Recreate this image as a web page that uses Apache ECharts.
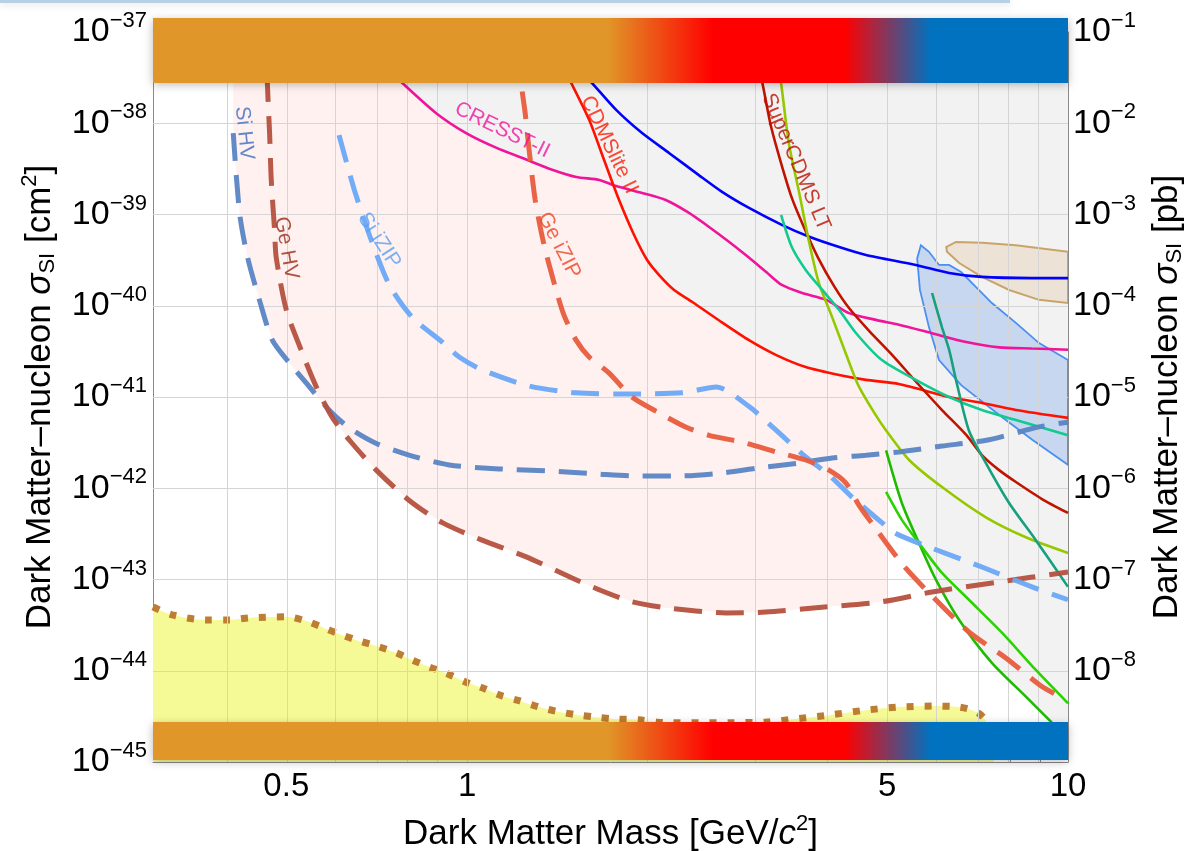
<!DOCTYPE html>
<html><head><meta charset="utf-8">
<script src="https://cdn.jsdelivr.net/npm/echarts@6/dist/echarts.min.js"></script>
<style>html,body{margin:0;padding:0;background:#fff}#c{width:1186px;height:851px}</style>
</head><body><div id="c"></div>
<script>
// ---------------- data (mass in GeV/c^2, cross section in cm^2) ----------------
const xRange = [0.3, 10];
const yRange = [1e-45, 1e-37];
const xTickLabels = [0.5, 1, 5, 10];
const xGridValues = [0.4, 0.5, 0.6, 0.7, 0.8, 0.9, 1, 2, 3, 4, 5, 6, 7, 8, 9];
const yGridExponents = [-44, -43, -42, -41, -40, -39, -38, -37];

const siHV = [[0.408,7.8e-39],[0.418,1.04e-39],[0.431,3.4e-40],[0.451,1.16e-40],[0.474,4.2e-41],[0.506,2.36e-41],[0.540,1.42e-41],[0.589,7.2e-42],[0.636,4.6e-42],[0.706,3.1e-42],[0.80,2.31e-42],[0.934,1.8e-42],[1.13,1.63e-42],[1.37,1.55e-42],[1.66,1.43e-42],[1.955,1.36e-42],[2.23,1.36e-42],[2.66,1.47e-42],[3.06,1.67e-42],[3.57,1.89e-42],[4.05,2.15e-42],[4.61,2.3e-42],[5.23,2.5e-42],[6.17,2.9e-42],[7.39,3.4e-42],[8.95,4.7e-42],[10,5.3e-42]];
const geHV = [[0.463,1e-37],[0.465,2.76e-38],[0.469,7.8e-39],[0.472,2.39e-39],[0.478,6.8e-40],[0.481,3.4e-40],[0.5,9.0e-41],[0.529,3.3e-41],[0.561,1.29e-41],[0.596,6.0e-42],[0.636,3.4e-42],[0.706,1.58e-42],[0.80,7.4e-43],[0.909,4.2e-43],[1.059,2.7e-43],[1.254,1.77e-43],[1.495,1.04e-43],[1.66,7.7e-44],[1.88,5.7e-44],[2.14,4.9e-44],[2.70,4.3e-44],[3.14,4.4e-44],[3.81,4.9e-44],[4.90,5.7e-44],[5.94,7.3e-44],[7.68,9.4e-44],[10,1.21e-43]];
const siIZIP = [[0.612,7.4e-39],[0.649,1.86e-39],[0.692,5.3e-40],[0.742,1.69e-40],[0.81,7.5e-41],[0.909,4.0e-41],[0.97,2.74e-41],[1.059,1.98e-41],[1.268,1.32e-41],[1.518,1.11e-41],[1.88,1.08e-41],[2.28,1.11e-41],[2.60,1.29e-41],[2.95,7.8e-42],[3.27,4.3e-42],[3.66,2.2e-42],[4.0,1.4e-42],[4.37,8.0e-43],[4.90,4.2e-43],[5.17,3.2e-43],[5.94,2.2e-43],[7.19,1.37e-43],[8.71,8.3e-44],[10,6.0e-44]];
const geIZIP = [[1.22,6.4e-38],[1.23,2.76e-38],[1.249,1.29e-38],[1.268,5.1e-39],[1.298,1.44e-39],[1.343,4.6e-40],[1.406,1.49e-40],[1.449,7.9e-41],[1.518,4.2e-41],[1.596,2.74e-41],[1.723,1.83e-41],[1.88,1.0e-41],[2.087,6.7e-42],[2.31,4.7e-42],[2.527,3.8e-42],[2.868,3.2e-42],[3.27,2.5e-42],[3.66,2.04e-42],[4.0,1.58e-42],[4.27,1.14e-42],[4.49,6.5e-43],[4.79,3.6e-43],[5.33,1.41e-43],[5.98,6.3e-44],[6.84,2.66e-44],[7.88,1.38e-44],[9.02,6.8e-45],[9.6,5.4e-45]];
const cresstII = [[0.756,3.4e-38],[0.78,2.76e-38],[0.888,1.29e-38],[0.996,7.8e-39],[1.117,5.4e-39],[1.254,4.0e-39],[1.385,3.1e-39],[1.518,2.58e-39],[1.66,2.39e-39],[1.77,2.05e-39],[1.955,1.72e-39],[2.14,1.44e-39],[2.34,1.04e-39],[2.527,7.3e-40],[2.73,5.0e-40],[2.94,3.4e-40],[3.146,2.34e-40],[3.34,1.69e-40],[3.61,1.38e-40],[3.96,1.16e-40],[4.32,8.3e-41],[4.79,7.0e-41],[5.23,6.2e-41],[5.94,5.0e-41],[6.77,4.0e-41],[7.68,3.5e-41],[8.71,3.4e-41],[10,3.3e-41]];
const blueLimit = [[1.566,3.4e-38],[1.614,2.76e-38],[1.77,1.4e-38],[1.955,7.8e-39],[2.17,4.7e-39],[2.43,2.7e-39],[2.656,1.77e-39],[2.945,1.18e-39],[3.34,7.7e-40],[3.71,5.7e-40],[4.16,4.4e-40],[4.61,3.6e-40],[5.58,2.8e-40],[6.34,2.29e-40],[7.19,2.07e-40],[8.71,2.01e-40],[10,2.01e-40]];
const cdmsliteII = [[1.45,3.84e-38],[1.49,2.76e-38],[1.596,1.09e-38],[1.69,3.95e-39],[1.79,1.44e-39],[1.896,5.96e-40],[1.993,3.17e-40],[2.087,2.17e-40],[2.21,1.49e-40],[2.37,1.1e-40],[2.62,6.98e-41],[2.945,4.2e-41],[3.27,2.88e-41],[3.66,2.13e-41],[4.16,1.74e-41],[4.61,1.54e-41],[5.23,1.39e-41],[6.34,1.0e-41],[7.19,8.6e-42],[8.19,7.2e-42],[10,5.9e-42]];
const superCdmsLT = [[3.06,3.84e-38],[3.10,2.76e-38],[3.20,9.57e-39],[3.33,3.66e-39],[3.47,1.52e-39],[3.64,7.11e-40],[3.84,3.33e-40],[4.08,1.64e-40],[4.32,9.44e-41],[4.67,5.28e-41],[5.10,2.88e-41],[5.59,1.46e-41],[6.17,7.2e-42],[6.77,3.84e-42],[7.19,2.31e-42],[7.68,1.58e-42],[8.19,1.17e-42],[9.05,7.62e-43],[10,5.36e-43]];
const yellowGreenLimit = [[3.30,3.8e-38],[3.33,2.76e-38],[3.43,6.1e-39],[3.57,1.72e-39],[3.71,4.9e-40],[3.85,1.77e-40],[4.05,7.5e-41],[4.37,1.98e-41],[4.49,1.29e-41],[4.76,6.7e-42],[4.98,4.3e-42],[5.44,2.04e-42],[6.17,1.03e-42],[7.30,4.8e-43],[8.51,2.9e-43],[10,1.95e-43]];
const tealLimit = [[3.33,9.9e-40],[3.47,4.4e-40],[3.66,2.47e-40],[3.90,1.49e-40],[4.16,9.0e-41],[4.44,5.0e-41],[4.90,2.54e-41],[5.58,1.54e-41],[6.34,1.0e-41],[7.19,7.2e-42],[8.19,5.6e-42],[10,3.8e-42]];
const darkTealLimit = [[5.94,1.38e-40],[6.17,5.8e-41],[6.34,3.3e-41],[6.51,1.54e-41],[6.84,4.3e-42],[7.30,1.89e-42],[7.98,6.9e-43],[8.84,2.7e-43],[10,8.3e-44]];
const greenLimitA = [[4.98,2.6e-42],[5.29,6.9e-43],[5.65,2.5e-43],[6.03,9.9e-44],[6.59,3.6e-44],[7.47,1.22e-44],[8.51,5.2e-45],[9.4,2.7e-45]];
const greenLimitB = [[4.98,9.1e-43],[5.29,4.5e-43],[5.65,2.5e-43],[6.17,1.18e-43],[6.84,6.0e-44],[7.77,2.6e-44],[8.84,1.02e-44],[10,4.4e-45]];
const cdmsSiContour = [[5.69,4.6e-40],[5.87,3.9e-40],[6.10,2.8e-40],[6.34,2.8e-40],[6.64,2.34e-40],[7.03,1.6e-40],[7.47,1.07e-40],[8.19,6.5e-41],[8.95,3.9e-41],[10,2.54e-41],[10,1.8e-42],[8.72,3.4e-42],[7.77,6.0e-42],[6.64,1.35e-41],[6.10,2.54e-41],[5.87,5.8e-41],[5.67,1.49e-40],[5.61,3.3e-40]];
const damaContour = [[10,3.9e-40],[8.19,4.6e-40],[7.19,4.9e-40],[6.51,5.0e-40],[6.27,4.4e-40],[6.29,3.9e-40],[6.59,2.94e-40],[7.19,2.07e-40],[7.98,1.49e-40],[8.95,1.16e-40],[10,1.07e-40]];
const neutrinoFloor = [[0.3,5.0e-44],[0.323,4.1e-44],[0.368,3.6e-44],[0.402,3.6e-44],[0.434,3.8e-44],[0.5,3.9e-44],[0.540,3.5e-44],[0.574,3.0e-44],[0.612,2.53e-44],[0.661,2.12e-44],[0.706,1.87e-44],[0.762,1.57e-44],[0.810,1.31e-44],[0.865,1.1e-44],[0.923,9.4e-45],[0.996,7.5e-45],[1.059,6.5e-45],[1.143,5.3e-45],[1.22,4.7e-45],[1.318,4.0e-45],[1.406,3.6e-45],[1.518,3.3e-45],[1.639,3.1e-45],[1.77,2.96e-45],[1.93,2.9e-45],[2.14,2.7e-45],[2.43,2.7e-45],[2.76,2.7e-45],[3.146,2.74e-45],[3.57,3.0e-45],[4.05,3.3e-45],[4.61,3.7e-45],[5.23,4.0e-45],[5.94,4.1e-45],[6.59,4.0e-45],[7.11,3.4e-45],[7.39,2.4e-45],[7.53,1e-45]];
const topBand = [1.42e-37, 2.76e-38];
const bottomBand = [2.74e-45, 1.05e-45];

const curveLabels = [
  {text:'Si HV', at:[0.4256, 7.8e-39], rotate:-84, color:'#3e6dbf'},
  {text:'Ge HV', at:[0.5, 4.3e-40], rotate:-80, color:'#9c2a18'},
  {text:'Si iZIP', at:[0.714, 5.2e-40], rotate:-57, color:'#5b9ff2'},
  {text:'Ge iZIP', at:[1.422, 4.6e-40], rotate:-63, color:'#ee4526'},
  {text:'CRESST-II', at:[1.144, 8.4e-39], rotate:-26, color:'#f0149a'},
  {text:'CDMSlite II', at:[1.723, 5.8e-39], rotate:-64, color:'#ff1a00'},
  {text:'SuperCDMS LT', at:[3.527, 3.76e-39], rotate:-67, color:'#b81000'}
];

// ---------------- helpers ----------------
const FONT = '"Liberation Sans", Arial, Helvetica, sans-serif';
const lg = Math.log10;
const toLog = p => [lg(p[0]), lg(p[1])];
const MINUS = '\u2212';

function polySeries(pts, fill, stroke, lw, z) {
  const d = pts.map(toLog);
  return {type:'custom', z, silent:true, clip:true, animation:false, data:d, encode:{x:0, y:1},
    renderItem: (params, api) => params.dataIndex === 0 ? {
      type:'polygon', shape:{points: d.map(p => api.coord(p))},
      style:{fill, stroke: stroke || 'none', lineWidth: lw || 0}} : null};
}
function lineSeries(pts, color, width, dash, z, opacity) {
  return {type:'line', z, silent:true, showSymbol:false, symbol:'none', smooth:0.25, animation:false,
    data: pts.map(toLog),
    lineStyle:{color, width, type: dash || 'solid', cap:'butt', opacity: opacity == null ? 1 : opacity}};
}

// regions built from the curves
const pinkRegion = [[siHV[0][0], 1e-37]]
  .concat(siHV.filter(p => p[0] < 0.59))
  .concat(geHV.filter(p => p[0] >= 0.59 && p[0] <= 5));
pinkRegion.push([5, pinkRegion[pinkRegion.length-1][1]], [5, 1e-37]);

const grayRegion = [[cresstII[0][0], 1e-37]]
  .concat(cresstII.filter(p => p[0] <= 1.68))
  .concat(cdmsliteII.filter(p => p[0] > 1.68 && p[0] <= 4.45))
  .concat(yellowGreenLimit.filter(p => p[0] > 4.45 && p[0] < 5))
  .concat(greenLimitA);
grayRegion.push([10, greenLimitA[greenLimitA.length-1][1]], [10, 1e-37]);

const bandGradient = {type:'linear', x:0, y:0, x2:1, y2:0, colorStops:[
  {offset:0, color:'#e09628'}, {offset:0.497, color:'#e09628'},
  {offset:0.612, color:'#ff0000'}, {offset:0.756, color:'#ff0000'},
  {offset:0.850, color:'#0072c0'}, {offset:1, color:'#0072c0'}]};

const supRich = {
  b:{fontSize:34, fontFamily:FONT, color:'#000'},
  s:{fontSize:22, fontFamily:FONT, color:'#000', padding:[0,0,22,0]}
};
const nameRich = {
  n:{fontSize:35, fontFamily:FONT, color:'#000'},
  i:{fontSize:35, fontFamily:FONT, fontStyle:'italic', color:'#000'},
  sub:{fontSize:22, fontFamily:FONT, color:'#000', padding:[15,0,0,0]},
  s:{fontSize:22, fontFamily:FONT, color:'#000', padding:[0,0,21,0]}
};

const chart = echarts.init(document.getElementById('c'), null, {renderer:'canvas'});
const option = {
  animation:false,
  backgroundColor:'#ffffff',
  grid:{left:153, right:118, top:32, bottom:89, containLabel:false, outerBoundsMode:'none'},
  xAxis:{type:'value', min:lg(xRange[0]), max:lg(xRange[1]),
    name:'{n|Dark Matter Mass [GeV/}{i|c}{s|2}{n|]}', nameLocation:'middle', nameGap:51,
    nameTextStyle:{rich:nameRich},
    axisLine:{show:true, onZero:false, lineStyle:{color:'#8a8a8a', width:1}},
    axisTick:{show:true, inside:true, length:5, customValues:xGridValues.map(lg), lineStyle:{color:'#8a8a8a'}},
    axisLabel:{customValues:xTickLabels.map(lg), margin:8, fontSize:33, fontFamily:FONT, color:'#000',
      formatter: v => String(+Math.pow(10, v).toPrecision(3))},
    splitLine:{show:false}},
  yAxis:[
    {type:'value', min:lg(yRange[0]), max:lg(yRange[1]), interval:1, position:'left',
      name:'{n|Dark Matter\u2013nucleon }{i|\u03c3}{sub|SI}{n| [cm}{s|2}{n|]}', nameLocation:'middle', nameRotate:90, nameGap:91,
      nameTextStyle:{rich:nameRich},
      axisLine:{show:true, onZero:false, lineStyle:{color:'#8a8a8a', width:1}},
      axisTick:{show:true, inside:true, length:6, lineStyle:{color:'#8a8a8a'}},
      axisLabel:{margin:6, rich:supRich, formatter: v => '{b|10}{s|' + MINUS + Math.round(-v) + '}'},
      splitLine:{show:false}},
    {type:'value', min:lg(yRange[0]), max:lg(yRange[1]), interval:1, position:'right',
      name:'{n|Dark Matter\u2013nucleon }{i|\u03c3}{sub|SI}{n| [pb]}', nameLocation:'middle', nameRotate:90, nameGap:81,
      nameTextStyle:{rich:nameRich},
      axisLine:{show:true, onZero:false, lineStyle:{color:'#8a8a8a', width:1}},
      axisTick:{show:true, inside:true, length:6, lineStyle:{color:'#8a8a8a'}},
      axisLabel:{margin:5, rich:supRich, formatter: v => {
        const e = Math.round(v + 36); if (e < -8) return ''; return '{b|10}{s|' + MINUS + (-e) + '}'; }},
      splitLine:{show:false}}
  ],
  graphic:[
    {type:'rect', z:100, shape:{x:0, y:0, width:1010, height:3}, style:{fill:'#b7d0e4', shadowBlur:6, shadowColor:'rgba(0,0,0,0.12)', shadowOffsetY:2}}
  ],
  series:[
    polySeries(pinkRegion, '#fff1ef', null, 0, 1),
    polySeries(grayRegion, '#f2f2f2', null, 0, 2),
    {type:'line', z:3, data:[], silent:true, animation:false,
      markLine:{silent:true, symbol:['none','none'], animation:false, label:{show:false}, emphasis:{disabled:true},
        lineStyle:{color:'#d5d5d5', width:1, type:'solid'},
        data: xGridValues.map(v => ({xAxis: lg(v)})).concat(yGridExponents.map(e => ({yAxis: e})))}},
    polySeries(damaContour, '#ece3d6', '#c9a468', 2, 4),
    polySeries(cdmsSiContour, 'rgba(155,188,238,0.5)', '#4b8ff0', 1.8, 4),
    {type:'line', z:4, silent:true, showSymbol:false, symbol:'none', smooth:0.3, animation:false,
      data: neutrinoFloor.map(toLog),
      lineStyle:{color:'#bd7d33', width:7, type:[7,11], cap:'butt'},
      areaStyle:{color:'#f6fa96', opacity:1, origin:'start'}},
    lineSeries(blueLimit, '#0000ff', 2.6, null, 5),
    lineSeries(cresstII, '#f0149a', 2.6, null, 5),
    lineSeries(cdmsliteII, '#ff1000', 2.6, null, 5),
    lineSeries(superCdmsLT, '#c01400', 2.6, null, 5),
    lineSeries(yellowGreenLimit, '#96c800', 2.6, null, 5),
    lineSeries(tealLimit, '#12c98f', 2.6, null, 5),
    lineSeries(darkTealLimit, '#17a07e', 2.6, null, 5),
    lineSeries(greenLimitA, '#1fbb00', 2.6, null, 5),
    lineSeries(greenLimitB, '#2ad400', 2.6, null, 5),
    lineSeries(siHV, '#5a84c4', 5, [28,14], 6, 0.95),
    lineSeries(geHV, '#b5503e', 5, [28,14], 6, 0.95),
    lineSeries(siIZIP, '#6aa6f5', 5, [28,14], 6, 0.95),
    lineSeries(geIZIP, '#e85c3c', 5, [28,14], 6, 0.95),
    {type:'scatter', z:7, silent:true, animation:false, symbolSize:0,
      data: curveLabels.map(l => ({value: toLog(l.at),
        label:{show:true, position:'inside', formatter:l.text, rotate:l.rotate, color:l.color, fontSize:21, fontFamily:FONT}}))},
    {type:'custom', z:20, silent:true, clip:false, animation:false,
      data:[[lg(xRange[0]), lg(topBand[0]), lg(xRange[1]), lg(topBand[1])],
            [lg(xRange[0]), lg(bottomBand[0]), lg(xRange[1]), lg(bottomBand[1])]],
      encode:{x:[0,2], y:[1,3]},
      renderItem:(params, api) => {
        const p0 = api.coord([api.value(0), api.value(1)]);
        const p1 = api.coord([api.value(2), api.value(3)]);
        return {type:'rect', shape:{x:p0[0], y:p0[1], width:p1[0]-p0[0], height:p1[1]-p0[1]},
          style:{fill:bandGradient, shadowBlur:9, shadowColor:'rgba(0,0,0,0.28)', shadowOffsetY:2}};
      }}
  ]
};
chart.setOption(option);
</script></body></html>
